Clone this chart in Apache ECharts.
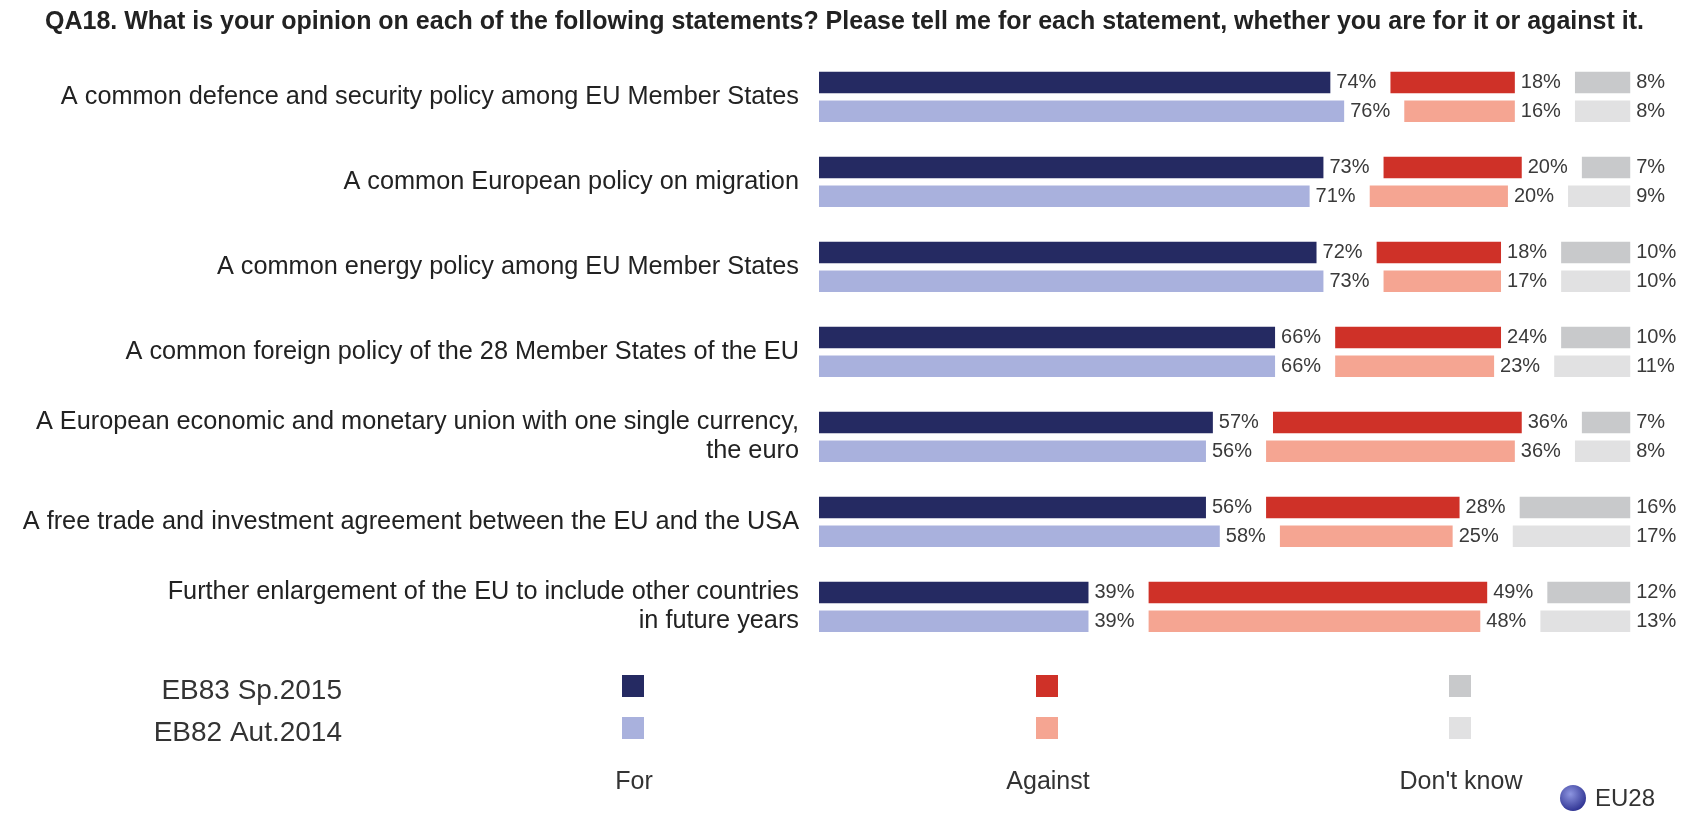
<!DOCTYPE html>
<html>
<head>
<meta charset="utf-8">
<title>QA18 – EU policy statements</title>
<script src="https://cdn.jsdelivr.net/npm/echarts@6/dist/echarts.min.js"></script>
<style>
  html, body { margin: 0; padding: 0; background: #ffffff; }
  #chart { width: 1701px; height: 816px; }
</style>
</head>
<body>
<div id="chart"></div>
<script>
// Statements (top to bottom)
const categories = [
  'A common defence and security policy among EU Member States',
  'A common European policy on migration',
  'A common energy policy among EU Member States',
  'A common foreign policy of the 28 Member States of the EU',
  'A European economic and monetary union with one single currency,\nthe euro',
  'A free trade and investment agreement between the EU and the USA',
  'Further enlargement of the EU to include other countries\nin future years'
];

// EB83 Spring 2015
const for2015     = [74, 73, 72, 66, 57, 56, 39];
const against2015 = [18, 20, 18, 24, 36, 28, 49];
const dk2015      = [8, 7, 10, 10, 7, 16, 12];

// EB82 Autumn 2014
const for2014     = [76, 71, 73, 66, 56, 58, 39];
const against2014 = [16, 20, 17, 23, 36, 25, 48];
const dk2014      = [8, 9, 10, 11, 8, 17, 13];

const waveNames   = ['EB83 Sp.2015', 'EB82 Aut.2014'];
const answerNames = ['For', 'Against', "Don't know"];

// Layout / style
const FONT = "'Liberation Sans', Arial, Helvetica, sans-serif";
const GAP = 8.7;               // blank space (in % units) between answer blocks
const BAR_W = 21.5;
const colors2015 = ['#252a62', '#cf3128', '#c8c9cb'];
const colors2014 = ['#a9b1dd', '#f5a592', '#e1e1e2'];

const valueLabel = {
  show: true,
  position: 'right',
  distance: 6,
  formatter: '{c}%',
  fontFamily: FONT,
  fontSize: 20,
  color: '#3a3a3a'
};

function seg(name, stack, data, color) {
  return {
    name: name,
    type: 'bar',
    stack: stack,
    data: data,
    barWidth: BAR_W,
    barGap: '33%',
    itemStyle: { color: color },
    label: valueLabel,
    emphasis: { disabled: true },
    silent: true
  };
}
function spacer(stack) {
  return {
    type: 'bar',
    stack: stack,
    data: categories.map(() => GAP),
    barWidth: BAR_W,
    itemStyle: { color: 'rgba(0,0,0,0)' },
    label: { show: false },
    emphasis: { disabled: true },
    silent: true
  };
}

const series = [
  seg(answerNames[0] + ' ' + waveNames[0], 'w2015', for2015, colors2015[0]),
  spacer('w2015'),
  seg(answerNames[1] + ' ' + waveNames[0], 'w2015', against2015, colors2015[1]),
  spacer('w2015'),
  seg(answerNames[2] + ' ' + waveNames[0], 'w2015', dk2015, colors2015[2]),
  seg(answerNames[0] + ' ' + waveNames[1], 'w2014', for2014, colors2014[0]),
  spacer('w2014'),
  seg(answerNames[1] + ' ' + waveNames[1], 'w2014', against2014, colors2014[1]),
  spacer('w2014'),
  seg(answerNames[2] + ' ' + waveNames[1], 'w2014', dk2014, colors2014[2])
];

// Legend block: wave names on the left, swatch columns, answer names below
const legendCols = [633, 1047, 1460];
const legendRows = [686, 728];
const graphics = [];
waveNames.forEach((w, r) => {
  graphics.push({
    type: 'text', x: 342, y: legendRows[r] + 5,
    style: { text: w, font: '28px ' + FONT, fill: '#333', align: 'right', verticalAlign: 'middle' }
  });
  legendCols.forEach((cx, c) => {
    graphics.push({
      type: 'rect',
      shape: { x: cx - 11, y: legendRows[r] - 11, width: 22, height: 22 },
      style: { fill: (r === 0 ? colors2015 : colors2014)[c] }
    });
  });
});
answerNames.forEach((a, c) => {
  graphics.push({
    type: 'text', x: legendCols[c] + 1, y: 782,
    style: { text: a, font: '25px ' + FONT, fill: '#333', align: 'center', verticalAlign: 'middle' }
  });
});
// EU28 badge
graphics.push({
  type: 'circle',
  shape: { cx: 1573, cy: 798, r: 13 },
  style: {
    fill: {
      type: 'radial', x: 0.4, y: 0.35, r: 0.7,
      colorStops: [{ offset: 0, color: '#8d95e0' }, { offset: 1, color: '#2b2f8f' }]
    }
  }
});
graphics.push({
  type: 'text', x: 1595, y: 799,
  style: { text: 'EU28', font: '24px ' + FONT, fill: '#333', align: 'left', verticalAlign: 'middle' }
});

const chart = echarts.init(document.getElementById('chart'), null, { renderer: 'canvas' });
chart.setOption({
  backgroundColor: '#ffffff',
  animation: false,
  title: {
    text: 'QA18. What is your opinion on each of the following statements? Please tell me for each statement, whether you are for it or against it.',
    left: 40,
    top: 5,
    textStyle: { fontFamily: FONT, fontSize: 25, fontWeight: 'bold', color: '#222' }
  },
  grid: { left: 819, right: 18.25, top: 54.4, bottom: 166.6, containLabel: false },
  xAxis: {
    type: 'value', min: 0, max: 125,
    show: false
  },
  yAxis: {
    type: 'category',
    data: categories,
    inverse: true,
    axisLine: { show: false },
    axisTick: { show: false },
    splitLine: { show: false },
    axisLabel: {
      margin: 20,
      fontFamily: FONT,
      fontSize: 25.3,
      lineHeight: 29,
      color: '#222',
      align: 'right'
    }
  },
  series: series,
  graphic: graphics
});
</script>
</body>
</html>
